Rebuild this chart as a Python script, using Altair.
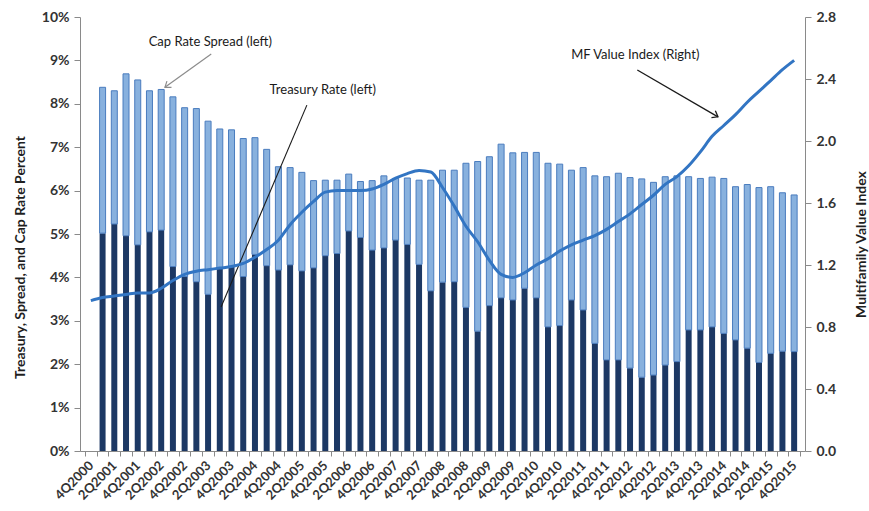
import json
import math
import altair as alt
import pandas as pd

# ---------------- data ----------------
quarters = ["4Q2000"] + [f"{q}Q{y}" for y in range(2001, 2016) for q in range(1, 5)]

treasury = [None,
    5.02, 5.23, 4.96, 4.75, 5.05, 5.09, 4.25, 4.02, 3.90, 3.61,
    4.21, 4.25, 4.02, 4.53, 4.27, 4.17, 4.29, 4.15, 4.22, 4.50,
    4.55, 5.07, 4.92, 4.63, 4.68, 4.86, 4.76, 4.30, 3.69, 3.89,
    3.90, 3.31, 2.76, 3.35, 3.53, 3.48, 3.75, 3.53, 2.86, 2.89,
    3.48, 3.25, 2.48, 2.10, 2.10, 1.91, 1.70, 1.75, 1.98, 2.06,
    2.79, 2.79, 2.86, 2.71, 2.56, 2.37, 2.04, 2.25, 2.30, 2.29]

cap_rate = [None,
    8.38, 8.30, 8.69, 8.55, 8.30, 8.33, 8.16, 7.91, 7.89, 7.60,
    7.42, 7.40, 7.20, 7.22, 6.95, 6.55, 6.53, 6.42, 6.23, 6.24,
    6.24, 6.38, 6.21, 6.23, 6.34, 6.28, 6.29, 6.24, 6.24, 6.47,
    6.47, 6.63, 6.67, 6.78, 7.07, 6.87, 6.88, 6.88, 6.63, 6.61,
    6.47, 6.53, 6.34, 6.32, 6.40, 6.30, 6.27, 6.19, 6.32, 6.34,
    6.32, 6.28, 6.31, 6.28, 6.09, 6.14, 6.07, 6.09, 5.95, 5.90]

mf_index = [0.97, 0.99, 1.00, 1.01, 1.02, 1.02, 1.05, 1.10, 1.14, 1.16,
            1.17, 1.18, 1.19, 1.21, 1.25, 1.30, 1.36, 1.46, 1.54, 1.61,
            1.67, 1.68, 1.68, 1.68, 1.69, 1.72, 1.76, 1.79, 1.81, 1.80,
            1.70, 1.58, 1.45, 1.35, 1.23, 1.14, 1.12, 1.15, 1.20, 1.24,
            1.29, 1.33, 1.36, 1.39, 1.43, 1.48, 1.53, 1.59, 1.65, 1.72,
            1.77, 1.84, 1.93, 2.03, 2.10, 2.17, 2.25, 2.32, 2.39, 2.46,
            2.52]

left_ticks = [0, 1, 2, 3, 4, 5, 6, 7, 8, 9, 10]
right_ticks = [0, 0.4, 0.8, 1.2, 1.6, 2.0, 2.4, 2.8]

# annotations (in data units: category index, left-axis percent)
ann_text = ["Cap Rate Spread (left)", "Treasury Rate (left)", "MF Value Index (Right)"]
ann_x = [10.19, 19.78, 46.45]
ann_y = [9.42, 8.32, 9.12]

arrow_spread = {"x": 10.27, "y": 9.15, "x2": 6.32, "y2": 8.38}
line_treasury = {"x": 18.43, "y": 7.97, "x2": 11.11, "y2": 3.32}
arrow_mf = {"x": 46.62, "y": 8.78, "x2": 53.5, "y2": 7.70}

# ---------------- layout ----------------
W, H = 725, 434
N = len(quarters)
FONT = "Lato"
px_per_x = W / N
px_per_y = H / 10.0

df = pd.DataFrame({
    "idx": list(range(N)),
    "quarter": quarters,
    "treasury": treasury,
    "cap_rate": cap_rate,
    "mf": mf_index,
})

x_scale = alt.Scale(domain=[-0.5, N - 0.5], nice=False, zero=False)
y_left_scale = alt.Scale(domain=[0, 10], nice=False)
y_right_scale = alt.Scale(domain=[0, 2.8], nice=False)

tick_vals = [i - 0.5 for i in range(N + 1)]
label_expr = (
    "(round(datum.value + 0.5) % 2 == 0 && round(datum.value + 0.5) < " + str(N) + ") ? "
    + json.dumps(quarters) + "[round(datum.value + 0.5)] : ''"
)

x_axis = alt.Axis(
    values=tick_vals, labelExpr=label_expr, labelAngle=-45, labelOffset=px_per_x / 2,
    labelOverlap=False, labelAlign="right", labelBaseline="middle", labelPadding=7,
    tickSize=5, title=None, grid=False, domainColor="#8a8a8a", tickColor="#8a8a8a",
    labelFont=FONT, labelFontSize=13, labelFontWeight="bold", labelColor="#333333",
)

left_axis = alt.Axis(
    values=left_ticks, labelExpr="datum.value + '%'", tickSize=6, grid=False,
    domainColor="#8a8a8a", tickColor="#8a8a8a", labelFont=FONT, labelFontSize=14,
    labelFontWeight="bold", labelColor="#333333", labelPadding=5,
    title="Treasury, Spread, and Cap Rate Percent", titleFont=FONT, titleFontSize=14,
    titleFontWeight="bold", titleColor="#1f1f1f", titleAngle=270, titleX=-60, titleY=240,
    titleAlign="center", titleBaseline="middle",
)

right_axis = alt.Axis(
    orient="right", values=right_ticks, format=".1f", tickSize=6, grid=False,
    domainColor="#8a8a8a", tickColor="#8a8a8a", labelFont=FONT, labelFontSize=14,
    labelFontWeight="bold", labelColor="#333333", labelPadding=5,
    title="Multifamily Value Index", titleFont=FONT, titleFontSize=14,
    titleFontWeight="bold", titleColor="#1f1f1f", titleAngle=270, titleX=56, titleY=227,
    titleAlign="center", titleBaseline="middle",
)

base = alt.Chart(df)


def X(field):
    return alt.X(field, scale=x_scale, axis=x_axis)


def YL(field):
    return alt.Y(field, scale=y_left_scale, axis=left_axis)


treasury_bars = base.mark_bar(size=6, color="#1c3864").encode(
    x=X("idx:Q"), y=YL("treasury:Q"),
)

spread_bars = base.mark_bar(size=6, color="#88b1de", stroke="#4a7cbe", strokeWidth=1).encode(
    x=X("idx:Q"), y=YL("treasury:Q"), y2="cap_rate:Q",
)

ann_df = pd.DataFrame({"x": ann_x, "y": ann_y, "text": ann_text})
ann_texts = alt.Chart(ann_df).mark_text(
    font=FONT, fontSize=13, color="#1a1a1a", align="center", baseline="middle"
).encode(x=X("x:Q"), y=YL("y:Q"), text="text:N")


def seg(d, color, width):
    return alt.Chart(pd.DataFrame([d])).mark_rule(color=color, strokeWidth=width).encode(
        x=X("x:Q"), y=YL("y:Q"), x2="x2:Q", y2="y2:Q",
    )


def head(d, color, width):
    dx = (d["x2"] - d["x"]) * px_per_x
    dy = -(d["y2"] - d["y"]) * px_per_y
    ang = math.degrees(math.atan2(dx, -dy)) % 360
    return alt.Chart(pd.DataFrame([{"x": d["x2"], "y": d["y2"]}])).mark_point(
        shape="M-0.75,1L0,0L0.75,1", size=110, filled=False, color=color,
        strokeWidth=width, angle=ang, opacity=1,
    ).encode(x=X("x:Q"), y=YL("y:Q"))


left_layer = alt.layer(
    treasury_bars, spread_bars, ann_texts,
    seg(arrow_spread, "#8c8c8c", 1.2), head(arrow_spread, "#8c8c8c", 1.2),
    seg(line_treasury, "#1a1a1a", 1.1),
    seg(arrow_mf, "#1a1a1a", 1.3), head(arrow_mf, "#1a1a1a", 1.3),
)

mf_line = base.mark_line(color="#3275c3", strokeWidth=3, interpolate="monotone").encode(
    x=X("idx:Q"),
    y=alt.Y("mf:Q", scale=y_right_scale, axis=right_axis),
)

chart = (
    alt.layer(left_layer, mf_line)
    .resolve_scale(y="independent")
    .properties(
        width=W, height=H,
        autosize=alt.AutoSizeParams(type="none"),
        padding={"left": 80, "top": 17, "right": 64, "bottom": 60},
        background="white",
    )
    .configure_view(stroke=None)
)

chart.save("out.html", embed_options={"renderer": "svg", "actions": False})
